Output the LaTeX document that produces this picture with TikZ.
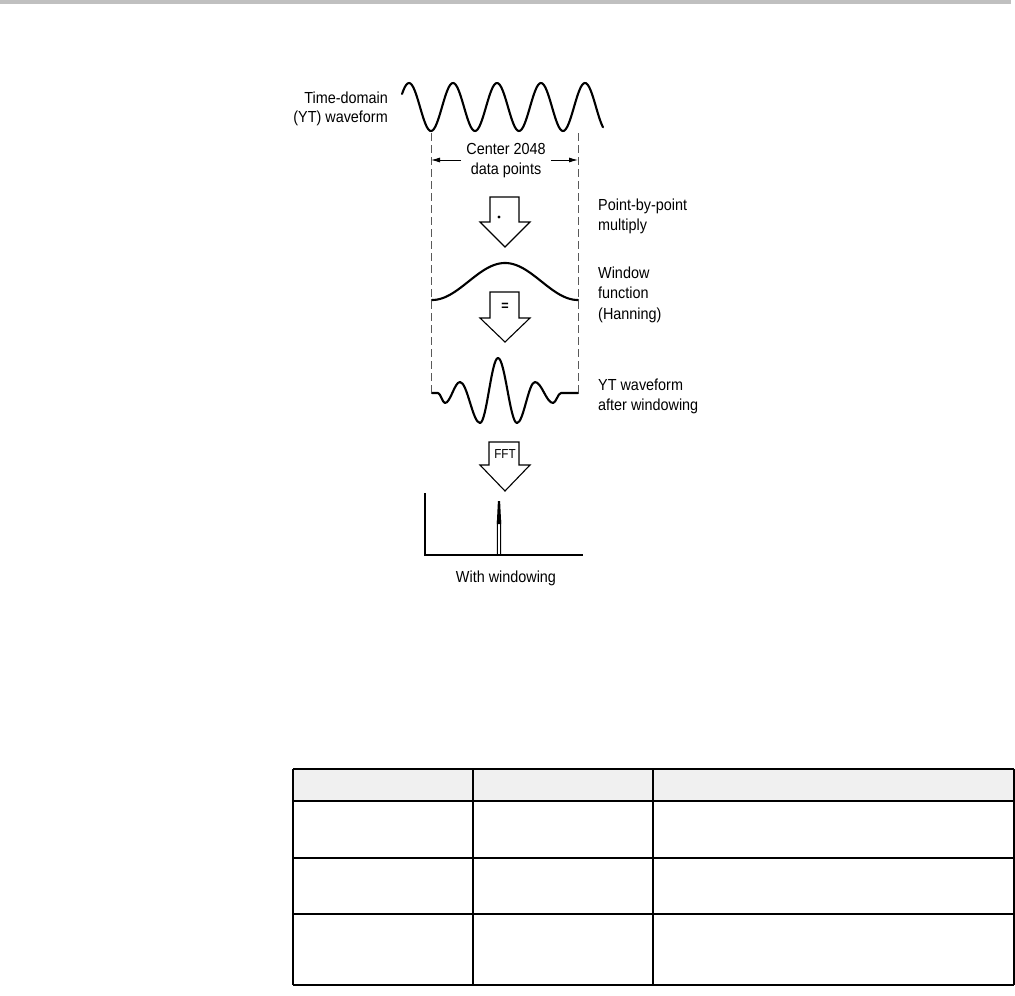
\documentclass[tikz,border=0pt]{standalone}
\usepackage{fontspec}
\setmainfont{Liberation Sans}[FakeStretch=0.9]
\usetikzlibrary{arrows.meta}
\definecolor{barGray}{HTML}{C0C0C0}
\definecolor{headGray}{HTML}{F0F0F0}
\tikzset{
  wave/.style={line width=2.1pt, line join=round, line cap=round},
  guide/.style={line width=0.8pt, black!65, dash pattern=on 8pt off 4pt},
  blockarrow/.style={line width=1.1pt, fill=white, line join=miter},
  lbl/.style={inner sep=0pt, font=\fontsize{16}{20}\selectfont},
  grid/.style={line width=1.6pt},
  dimarrow/.style={line width=0.9pt, -{Latex[length=9pt,width=5pt]}}
}
\begin{document}
\begin{tikzpicture}[x=1pt,y=-1pt]
\useasboundingbox (0,0) rectangle (1015,996);
% top gray rule
\fill[barGray] (0,0) rectangle (1011,4);

% dashed guides
\draw[guide] (431,133) -- (431,392);
\draw[guide] (578,133) -- (578,392);

% time-domain waveform
\draw[wave] plot[domain=402:603, samples=220, variable=\t] (\t,{107-24*cos(8.181818*(\t-409))});
\node[lbl, anchor=east, align=right, font=\fontsize{16}{19}\selectfont] (tdw) at (388,108.5) {Time-domain\\(YT) waveform};

% dimension
\node[lbl, align=center] (ctr) at (506,161) {Center 2048\\data points};
\coordinate (dl) at (431,160);
\coordinate (dr) at (578,160);
\draw[dimarrow] (ctr.west |- dl) ++(-5,0) -- (dl);
\draw[dimarrow] (ctr.east |- dr) ++(5,0) -- (dr);

% block arrow 1
\draw[blockarrow] (490,197) -- (519,197) -- (519,222) -- (530,222) -- (505,247) -- (480,222) -- (490,222) -- cycle;
\fill (499,217) circle (1.7);
\node[lbl, anchor=west, align=left, font=\fontsize{16}{20.5}\selectfont] (pbp) at (598,216.5) {Point-by-point\\multiply};

% window function
\draw[wave] plot[domain=432:578, samples=150, variable=\t] (\t,{300-37*(0.5-0.5*cos(2.465753*(\t-432)))});
\node[lbl, anchor=west, align=left, font=\fontsize{16}{20.5}\selectfont] (win) at (598,294.5) {Window\\function\\(Hanning)};

% block arrow 2
\draw[blockarrow] (490,292) -- (519,292) -- (519,318) -- (530,318) -- (505,342) -- (480,318) -- (490,318) -- cycle;
\node[inner sep=0pt, font=\fontsize{14}{14}\selectfont\bfseries] (eq) at (505,307) {=};

% windowed waveform
\draw[wave] (432,393) -- (438,393)
  .. controls +(2.55,0) and +(-2.55,0) .. (445,403)
  .. controls +(5.46,0) and +(-5.46,0) .. (460,382)
  .. controls +(7.28,0) and +(-7.28,0) .. (480,423)
  .. controls +(6.56,0) and +(-6.56,0) .. (498,358)
  .. controls +(6.92,0) and +(-6.92,0) .. (517,423)
  .. controls +(6.56,0) and +(-6.56,0) .. (535,382)
  .. controls +(6.56,0) and +(-6.56,0) .. (553,403)
  .. controls +(2.91,0) and +(-2.91,0) .. (561,393)
  -- (578,393);
\node[lbl, anchor=west, align=left] (ytw) at (598,396) {YT waveform\\after windowing};

% block arrow 3
\draw[blockarrow] (489,442) -- (519,442) -- (519,465) -- (530,465) -- (505,491) -- (480,465) -- (489,465) -- cycle;
\node[inner sep=0pt, font=\fontsize{13}{13}\selectfont] (fft) at (505,454) {FFT};

% spectrum
\draw[line width=1.4pt] (425,493) -- (425,555) -- (583,555);
\draw[line width=1pt] (497.3,555) -- (497.5,520);
\draw[line width=1pt] (500.7,555) -- (500.5,520);
\fill (496.8,524) -- (497.9,501) -- (500.1,501) -- (501.2,524) -- cycle;
\node[lbl] (ww) at (506,578) {With windowing};

% table
\fill[headGray] (293,769) rectangle (1014,801);
\draw[grid] (293,769) -- (1014,769);
\draw[grid] (293,801) -- (1014,801);
\draw[grid] (293,858) -- (1014,858);
\draw[grid] (293,914) -- (1014,914);
\draw[grid] (293,985) -- (1014,985);
\draw[grid] (293,769) -- (293,985);
\draw[grid] (473,769) -- (473,985);
\draw[grid] (653,769) -- (653,985);
\draw[grid] (1014,769) -- (1014,985);
\end{tikzpicture}
\end{document}
